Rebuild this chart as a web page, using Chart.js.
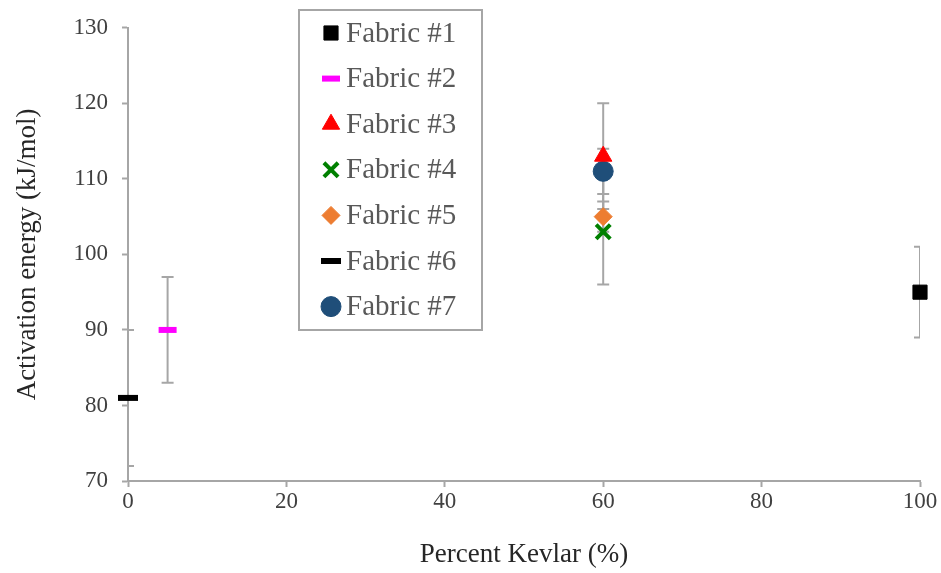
<!DOCTYPE html>
<html>
<head>
<meta charset="utf-8">
<script src="https://cdn.jsdelivr.net/npm/chart.js@4.4.0/dist/chart.umd.min.js"></script>
<style>
  html, body { margin: 0; padding: 0; background: #fff; }
  #wrap { width: 941px; height: 573px; position: relative; }
</style>
</head>
<body>
<div id="wrap"><canvas id="myChart"></canvas></div>
<script>
'use strict';

// data
let fabrics = ['Fabric #1', 'Fabric #2', 'Fabric #3', 'Fabric #4', 'Fabric #5', 'Fabric #6', 'Fabric #7'];
let kevlar = [100, 5, 60, 60, 60, 0, 60];
let energy = [95, 90, 113, 103, 105, 81, 111];
let errPlus = [6, 7, 7, 7, 2, 9, 3];
let errMinus = [6, 7, 7, 7, 2, 9, 3];
let xTicks = [0, 20, 40, 60, 80, 100];
let yTicks = [70, 80, 90, 100, 110, 120, 130];

// marker look for each fabric
let markerColor = ['#000000', '#ff00ff', '#ff0000', '#008000', '#ed7d31', '#000000', '#1f4e79'];
let markerStyle = ['rect', 'line', 'triangle', 'crossRot', 'rectRot', 'line', 'circle'];
let markerSize = [10, 9, 10, 10, 9, 10, 10];
let markerBorder = [1, 6, 1, 4, 1, 6, 1];

const grey = '#a6a6a6';
const serif = "'Liberation Serif', 'Times New Roman', serif";

let datasets = [];
for (let i = 0; i < fabrics.length; i++) {
  datasets.push({
    label: fabrics[i],
    data: [{ x: kevlar[i], y: energy[i] }],
    pointStyle: markerStyle[i],
    pointRadius: markerSize[i],
    pointBorderWidth: markerBorder[i],
    pointBackgroundColor: markerColor[i],
    pointBorderColor: markerColor[i],
    showLine: false,
    clip: false
  });
}

const errorBars = {
  id: 'errorBars',
  beforeDatasetsDraw(chart) {
    const ctx = chart.ctx;
    const area = chart.chartArea;
    const x = chart.scales.x;
    const y = chart.scales.y;
    ctx.save();
    ctx.beginPath();
    ctx.rect(area.left, area.top - 20, area.right - area.left, area.bottom - area.top + 40);
    ctx.clip();
    ctx.strokeStyle = grey;
    ctx.lineWidth = 2;
    for (let i = 0; i < fabrics.length; i++) {
      let px = x.getPixelForValue(kevlar[i]);
      let top = y.getPixelForValue(energy[i] + errPlus[i]);
      let bot = y.getPixelForValue(energy[i] - errMinus[i]);
      ctx.beginPath();
      ctx.moveTo(px, top);
      ctx.lineTo(px, bot);
      ctx.moveTo(px - 6, top);
      ctx.lineTo(px + 6, top);
      ctx.moveTo(px - 6, bot);
      ctx.lineTo(px + 6, bot);
      ctx.stroke();
    }
    ctx.restore();
  }
};

const boxLegend = {
  id: 'boxLegend',
  afterDraw(chart) {
    const ctx = chart.ctx;
    ctx.save();
    ctx.fillStyle = '#fff';
    ctx.fillRect(299, 10, 183, 320);
    ctx.strokeStyle = grey;
    ctx.lineWidth = 2;
    ctx.strokeRect(299, 10, 183, 320);
    ctx.font = '29px ' + serif;
    ctx.textBaseline = 'middle';
    for (let i = 0; i < fabrics.length; i++) {
      let cy = 33 + i * 45.6;
      ctx.fillStyle = markerColor[i];
      ctx.strokeStyle = markerColor[i];
      ctx.lineWidth = markerBorder[i];
      Chart.helpers.drawPoint(ctx, {
        pointStyle: markerStyle[i],
        radius: markerSize[i],
        borderWidth: markerBorder[i],
        rotation: 0
      }, 331, cy);
      ctx.fillStyle = '#595959';
      ctx.fillText(fabrics[i], 346, cy + 1);
    }
    ctx.restore();
  }
};

let ctx = document.getElementById('myChart').getContext('2d');

new Chart(ctx, {
  type: 'scatter',
  data: { datasets: datasets },
  plugins: [errorBars, boxLegend],
  options: {
    responsive: true,
    maintainAspectRatio: false,
    animation: false,
    events: [],
    layout: { padding: { top: 17, right: 21, left: 0, bottom: 0 } },
    plugins: {
      legend: { display: false },
      tooltip: { enabled: false }
    },
    scales: {
      x: {
        type: 'linear',
        min: 0,
        max: 100,
        afterBuildTicks: (scale) => { scale.ticks = xTicks.map(v => ({ value: v })); },
        afterFit: (scale) => { scale.height = 92; },
        grid: { drawOnChartArea: false, tickLength: 6, tickColor: grey, tickWidth: 2 },
        border: { color: grey, width: 2 },
        ticks: { color: '#404040', font: { family: serif, size: 23 }, padding: 1 },
        title: {
          display: true,
          text: 'Percent Kevlar (%)',
          color: '#262626',
          font: { family: serif, size: 27 },
          padding: { top: 0, bottom: 2 }
        }
      },
      y: {
        type: 'linear',
        min: 70,
        max: 130,
        afterBuildTicks: (scale) => { scale.ticks = yTicks.map(v => ({ value: v })); },
        afterFit: (scale) => { scale.width = 128; },
        grid: { drawOnChartArea: false, tickLength: 6, tickColor: grey, tickWidth: 2 },
        border: { color: grey, width: 2 },
        ticks: { color: '#404040', font: { family: serif, size: 23 }, padding: 14 },
        title: {
          display: true,
          text: 'Activation energy (kJ/mol)',
          color: '#262626',
          font: { family: serif, size: 27 },
          padding: { top: 12, bottom: 0 }
        }
      }
    }
  }
});
</script>
</body>
</html>
